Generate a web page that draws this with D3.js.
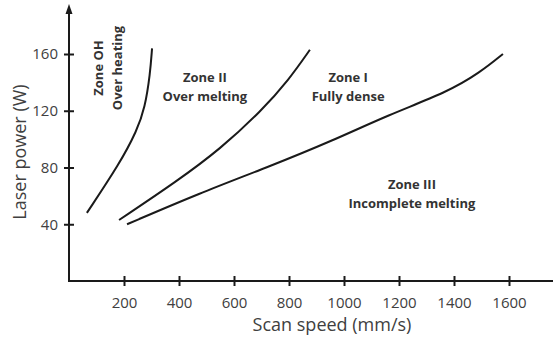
<!DOCTYPE html>
<html>
<head>
<meta charset="utf-8">
<script src="https://cdn.jsdelivr.net/npm/d3@7"></script>
<style>
  body { margin: 0; background: #fff; }
  svg { display: block; font-family: "Open Sans", Lato, sans-serif; }
</style>
</head>
<body>
<div id="chart"></div>
<script>
// tick values
var xTicks = [200, 400, 600, 800, 1000, 1200, 1400, 1600];
var yTicks = [40, 80, 120, 160];

// boundary curves (scan speed mm/s, laser power W)
var ohSpeed = [65, 185, 247, 276, 295, 302];
var ohPower = [48, 83, 106, 122, 146, 164];

var meltSpeed = [182, 390, 550, 700, 800, 876];
var meltPower = [43, 70, 93, 120, 142, 163];

var denseSpeed = [211, 476, 720, 960, 1160, 1375, 1495, 1578];
var densePower = [40, 62, 80, 99, 117, 133, 147, 160];

// zone labels
var zoneNames = ["Zone OH", "Zone II", "Zone I", "Zone III"];
var zoneDescs = ["Over heating", "Over melting", "Fully dense", "Incomplete melting"];
var zoneSpeed = [125, 494, 1015, 1247];
var zonePower = [150, 140, 140, 65];

var width = 553, height = 341;
var textCol = "#404040", lineCol = "#1a1a1a";

var x = d3.scaleLinear().domain([0, 1600]).range([69, 509]);
var y = d3.scaleLinear().domain([0, 160]).range([281, 54]);

var svg = d3.select("#chart").append("svg")
    .attr("width", width)
    .attr("height", height);

// x axis
var xAxis = svg.append("g")
    .attr("transform", "translate(0," + y(0) + ")")
    .call(d3.axisBottom(x).tickValues(xTicks).tickFormat(d3.format("d")).tickSize(5).tickPadding(11));
xAxis.select(".domain").remove();
xAxis.selectAll(".tick line").attr("y1", -5).attr("y2", 5)
    .attr("stroke", lineCol).attr("stroke-width", 2);
xAxis.selectAll(".tick text").attr("fill", textCol)
    .style("font-size", "15px").style("font-family", "'Open Sans', sans-serif");
svg.append("line")
    .attr("x1", x(0)).attr("x2", width)
    .attr("y1", y(0)).attr("y2", y(0))
    .attr("stroke", lineCol).attr("stroke-width", 2);

// y axis
var yAxis = svg.append("g")
    .attr("transform", "translate(" + x(0) + ",0)")
    .call(d3.axisLeft(y).tickValues(yTicks).tickSize(5).tickPadding(6));
yAxis.select(".domain").remove();
yAxis.selectAll(".tick line").attr("x1", -5).attr("x2", 5)
    .attr("stroke", lineCol).attr("stroke-width", 2);
yAxis.selectAll(".tick text").attr("fill", textCol)
    .style("font-size", "15px").style("font-family", "'Open Sans', sans-serif");
svg.append("line")
    .attr("x1", x(0)).attr("x2", x(0))
    .attr("y1", y(0) + 1).attr("y2", 12)
    .attr("stroke", lineCol).attr("stroke-width", 2);
// arrow head
svg.append("path")
    .attr("d", "M" + x(0) + ",4 L" + (x(0) - 3.5) + ",14 L" + (x(0) + 3.5) + ",14 Z")
    .attr("fill", lineCol);

// axis titles
svg.append("text")
    .attr("x", 332).attr("y", 331)
    .attr("text-anchor", "middle")
    .attr("fill", textCol)
    .style("font-size", "18px")
    .text("Scan speed (mm/s)");
svg.append("text")
    .attr("transform", "translate(26,152) rotate(-90)")
    .attr("text-anchor", "middle")
    .attr("fill", textCol)
    .style("font-size", "18px")
    .text("Laser power (W)");

// curves
var line = d3.line()
    .x(function(d) { return x(d[0]); })
    .y(function(d) { return y(d[1]); })
    .curve(d3.curveBasis);

var curves = [d3.zip(ohSpeed, ohPower), d3.zip(meltSpeed, meltPower), d3.zip(denseSpeed, densePower)];
svg.selectAll(".boundary")
    .data(curves)
    .enter().append("path")
    .attr("class", "boundary")
    .attr("d", line)
    .attr("fill", "none")
    .attr("stroke", lineCol)
    .attr("stroke-width", 2);

// zone labels
zoneNames.forEach(function(name, i) {
  var px = x(zoneSpeed[i]), py = y(zonePower[i]);
  var g = svg.append("g");
  if (i === 0) {
    g.attr("transform", "translate(" + 107 + "," + 68 + ") rotate(-90)");
  } else {
    g.attr("transform", "translate(" + px + "," + py + ")");
  }
  g.append("text")
      .attr("text-anchor", "middle")
      .attr("y", i === 0 ? -4 : 0)
      .attr("fill", "#333")
      .style("font-size", "13px").style("font-weight", "bold")
      .text(name);
  g.append("text")
      .attr("text-anchor", "middle")
      .attr("y", i === 0 ? 15 : 19)
      .attr("fill", "#333")
      .style("font-size", "13px").style("font-weight", "bold")
      .text(zoneDescs[i]);
});
</script>
</body>
</html>
